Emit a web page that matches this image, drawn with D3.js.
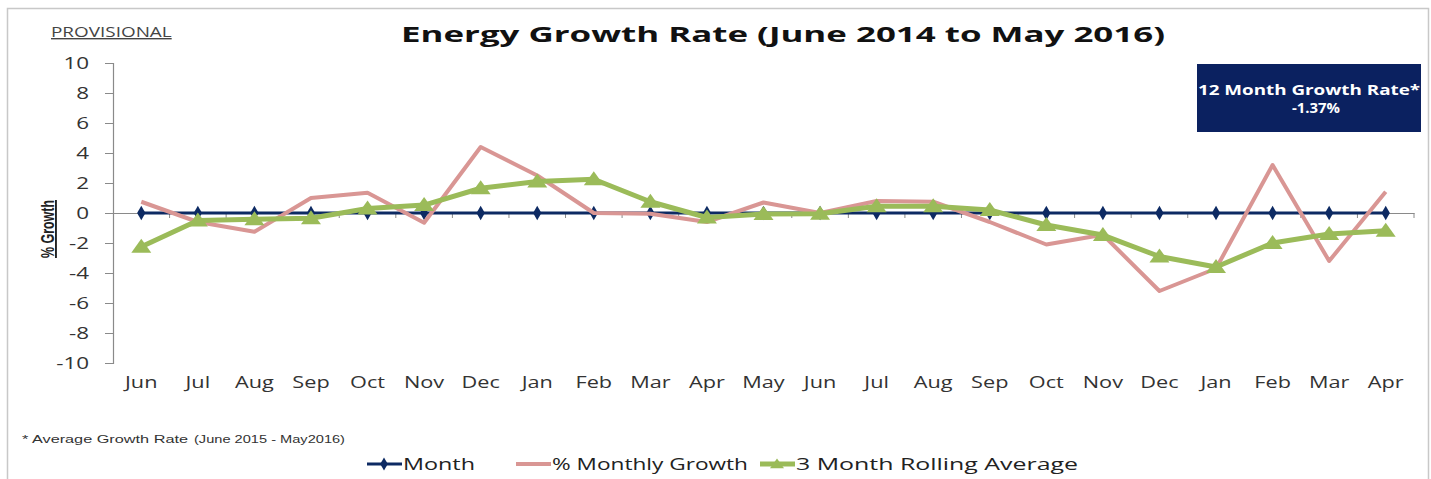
<!DOCTYPE html>
<html>
<head>
<meta charset="utf-8">
<script src="https://cdn.jsdelivr.net/npm/d3@7"></script>
<style>
  body { margin: 0; background: #fff; }
  svg { display: block; }
</style>
</head>
<body>
<div id="wrapper"></div>
<script>
// data
const months = ["Jun","Jul","Aug","Sep","Oct","Nov","Dec","Jan","Feb","Mar","Apr","May",
                "Jun","Jul","Aug","Sep","Oct","Nov","Dec","Jan","Feb","Mar","Apr"]
const monthLine = [0,0,0,0,0,0,0,0,0,0,0,0,0,0,0,0,0,0,0,0,0,0,0]
const monthlyGrowth = [0.75,-0.6,-1.25,1.0,1.35,-0.65,4.4,2.5,0.0,-0.05,-0.6,0.7,
                       0.0,0.8,0.75,-0.6,-2.1,-1.45,-5.2,-3.7,3.2,-3.2,1.42]
const rollingAvg = [-2.25,-0.5,-0.42,-0.35,0.3,0.53,1.65,2.1,2.25,0.75,-0.3,-0.07,
                    -0.05,0.45,0.45,0.2,-0.8,-1.47,-2.9,-3.6,-2.0,-1.4,-1.18]
const yTicks = [10,8,6,4,2,0,-2,-4,-6,-8,-10]
const growthRate = "-1.37%"

const width = 1431, height = 479
const margin = {top: 63, right: 17, bottom: 116, left: 113}

// the original picture is a bit wider than tall, so stretch text the same way
const stretch = (sel, k) => sel.each(function() {
  const len = this.getComputedTextLength()
  d3.select(this).attr("textLength", len * k).attr("lengthAdjust", "spacingAndGlyphs")
})

const svg = d3.select("#wrapper").append("svg")
    .attr("width", width)
    .attr("height", height)

// outer frame
svg.append("path")
    .attr("d", `M7.5,${height} V8.5 H1428.5 V${height}`)
    .attr("fill", "none")
    .attr("stroke", "#c8c8c8")
    .attr("stroke-width", 1.5)

const x = d3.scaleBand()
    .domain(d3.range(months.length))
    .range([margin.left, width - margin.right])
const y = d3.scaleLinear()
    .domain([-10, 10])
    .range([height - margin.bottom, margin.top])

const cx = i => x(i) + x.bandwidth() / 2

// y axis
const yAxis = svg.append("g")
    .attr("transform", `translate(${margin.left},0)`)
    .call(d3.axisLeft(y).tickValues(yTicks).tickSize(8).tickPadding(16)
      .tickFormat(d => String(d)))
yAxis.select(".domain").attr("stroke", "#8a8a8a").attr("stroke-width", 1.2)
yAxis.selectAll(".tick line").attr("stroke", "#8a8a8a")
yAxis.selectAll(".tick text")
    .attr("font-family", "'Open Sans', sans-serif")
    .attr("font-size", 16)
    .attr("fill", "#333")
    .call(stretch, 1.4)

// x axis at zero
const xAxis = svg.append("g")
    .attr("transform", `translate(0,${y(0)})`)
    .call(d3.axisBottom(x).tickSize(0).tickFormat(""))
xAxis.select(".domain").attr("stroke", "#8a8a8a").attr("stroke-width", 1.2)
xAxis.selectAll(".tick").remove()
xAxis.selectAll(".sep")
    .data(d3.range(1, months.length + 1))
    .join("line")
      .attr("x1", i => x(i - 1) + x.bandwidth())
      .attr("x2", i => x(i - 1) + x.bandwidth())
      .attr("y1", 0)
      .attr("y2", 5)
      .attr("stroke", "#8a8a8a")

// x labels (at bottom of plot)
svg.append("g").selectAll("text")
    .data(months)
    .join("text")
      .attr("x", (d, i) => cx(i))
      .attr("y", 388)
      .attr("text-anchor", "middle")
      .attr("font-family", "'Open Sans', sans-serif")
      .attr("font-size", 15.5)
      .attr("fill", "#333")
      .text(d => d)
      .call(stretch, 1.4)

// lines
const line = d3.line().x((d, i) => cx(i)).y(d => y(d))

svg.append("path")
    .datum(monthLine)
    .attr("d", line)
    .attr("fill", "none")
    .attr("stroke", "#0d2a63")
    .attr("stroke-width", 3)
svg.append("g").selectAll("path")
    .data(monthLine)
    .join("path")
      .attr("transform", (d, i) => `translate(${cx(i)},${y(d)})`)
      .attr("d", d3.symbol(d3.symbolDiamond, 60))
      .attr("fill", "#0d2a63")

svg.append("path")
    .datum(monthlyGrowth)
    .attr("d", line)
    .attr("fill", "none")
    .attr("stroke", "#d99694")
    .attr("stroke-width", 4)
    .attr("stroke-linejoin", "round")

svg.append("path")
    .datum(rollingAvg)
    .attr("d", line)
    .attr("fill", "none")
    .attr("stroke", "#9bbb59")
    .attr("stroke-width", 5)
    .attr("stroke-linejoin", "round")
const tri = "M0,-8 L10,6 L-10,6 Z"
svg.append("g").selectAll("path")
    .data(rollingAvg)
    .join("path")
      .attr("transform", (d, i) => `translate(${cx(i)},${y(d)})`)
      .attr("d", tri)
      .attr("fill", "#9bbb59")

// title
svg.append("text")
    .attr("x", 783)
    .attr("y", 42)
    .attr("text-anchor", "middle")
    .attr("font-family", "'Open Sans', sans-serif")
    .attr("font-weight", "bold")
    .attr("font-size", 22)
    .attr("textLength", 764)
    .attr("lengthAdjust", "spacingAndGlyphs")
    .attr("fill", "#111")
    .text("Energy Growth Rate (June 2014 to May 2016)")

svg.append("text")
    .attr("x", 51)
    .attr("y", 37)
    .attr("font-family", "'Open Sans', sans-serif")
    .attr("font-size", 14)
    .attr("fill", "#444")
    .attr("text-decoration", "underline")
    .text("PROVISIONAL")
    .call(stretch, 1.35)

// y title
svg.append("text")
    .attr("transform", "translate(54,229) rotate(-90)")
    .attr("text-anchor", "middle")
    .attr("font-family", "'Liberation Sans Narrow', 'Liberation Sans', sans-serif")
    .attr("font-weight", "bold")
    .attr("font-size", 19)
    .attr("textLength", 58)
    .attr("lengthAdjust", "spacingAndGlyphs")
    .attr("text-decoration", "underline")
    .attr("fill", "#222")
    .text("% Growth")

// box
svg.append("rect")
    .attr("x", 1197)
    .attr("y", 64)
    .attr("width", 224)
    .attr("height", 68)
    .attr("fill", "#0b2160")
svg.append("text")
    .attr("x", 1309)
    .attr("y", 95)
    .attr("text-anchor", "middle")
    .attr("font-family", "'Open Sans', sans-serif")
    .attr("font-weight", "bold")
    .attr("font-size", 14)
    .attr("textLength", 222)
    .attr("lengthAdjust", "spacingAndGlyphs")
    .attr("fill", "#fff")
    .text("12 Month Growth Rate*")
svg.append("text")
    .attr("x", 1316)
    .attr("y", 113)
    .attr("text-anchor", "middle")
    .attr("font-family", "'Open Sans', sans-serif")
    .attr("font-weight", "bold")
    .attr("font-size", 14)
    .attr("textLength", 48)
    .attr("lengthAdjust", "spacingAndGlyphs")
    .attr("fill", "#fff")
    .text(growthRate)

// footnote
svg.append("text")
    .attr("x", 22)
    .attr("y", 443)
    .attr("font-family", "'Liberation Sans', sans-serif")
    .attr("font-size", 11)
    .attr("textLength", 166)
    .attr("lengthAdjust", "spacingAndGlyphs")
    .attr("fill", "#333")
    .text("* Average  Growth Rate")
svg.append("text")
    .attr("x", 194)
    .attr("y", 443)
    .attr("font-family", "'Liberation Sans', sans-serif")
    .attr("font-size", 10)
    .attr("textLength", 151)
    .attr("lengthAdjust", "spacingAndGlyphs")
    .attr("fill", "#333")
    .text("(June 2015 - May2016)")

// legend
const legend = [
  {name: "Month", color: "#0d2a63", x: 367, w: 3, mark: "diamond", tw: 72},
  {name: "% Monthly Growth", color: "#d99694", x: 516, w: 4, mark: null, tw: 196},
  {name: "3 Month Rolling Average", color: "#9bbb59", x: 760, w: 5, mark: "tri", tw: 282},
]
const lg = svg.append("g").selectAll("g")
    .data(legend)
    .join("g")
      .attr("transform", d => `translate(${d.x},464)`)
lg.append("line")
    .attr("x1", 0).attr("x2", 35)
    .attr("stroke", d => d.color)
    .attr("stroke-width", d => d.w)
lg.filter(d => d.mark === "diamond").append("path")
    .attr("transform", "translate(17,0)")
    .attr("d", d3.symbol(d3.symbolDiamond, 50))
    .attr("fill", d => d.color)
lg.filter(d => d.mark === "tri").append("path")
    .attr("transform", "translate(17,0) scale(0.7)")
    .attr("d", tri)
    .attr("fill", d => d.color)
lg.append("text")
    .attr("x", 36)
    .attr("y", 6)
    .attr("font-family", "'Open Sans', sans-serif")
    .attr("font-size", 17)
    .attr("textLength", d => d.tw)
    .attr("lengthAdjust", "spacingAndGlyphs")
    .attr("fill", "#222")
    .text(d => d.name)
</script>
</body>
</html>
